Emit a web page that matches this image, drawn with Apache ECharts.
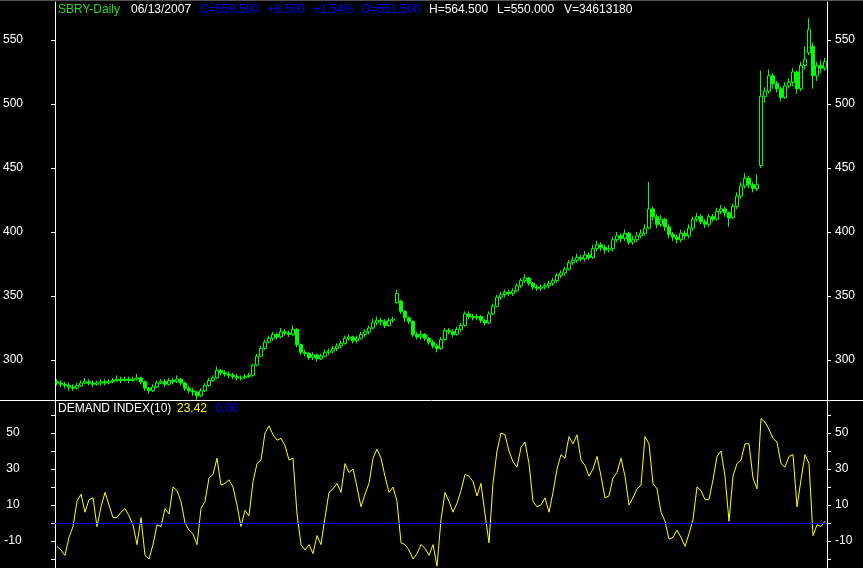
<!DOCTYPE html>
<html><head><meta charset="utf-8">
<script src="https://cdn.jsdelivr.net/npm/echarts@6/dist/echarts.min.js"></script>
<style>html,body{margin:0;padding:0;background:#000;}#c{width:863px;height:568px;}</style>
</head><body><div id="c"></div>
<script>
var opens = [283,282,281,280,279,278,280,282,283,282,
281,282,283,282,283,284,285,284,285,284,
285,286,283,278,276,279,282,283,281,284,
283,285,282,278,276,275,272,276,280,284,
286,292,290,289,288,287,286,286,287,288,
296,303,309,314,317,320,318,322,321,320,
324,312,306,305,302,304,301,303,306,307,
309,311,313,317,318,315,317,320,322,325,
329,331,330,327,331,345,346,338,333,330,
320,318,320,317,314,311,309,316,323,322,
320,324,327,336,334,333,334,331,329,336,
342,349,351,353,352,354,358,362,364,360,
357,356,357,358,360,362,366,368,371,376,
378,380,379,382,380,387,390,388,386,387,
394,397,395,399,392,394,397,399,403,418,
412,406,410,404,398,396,394,399,397,403,
410,412,408,406,412,410,416,418,415,411,
420,428,436,442,437,434,452,506,510,522,
516,512,505,514,517,525,512,530,540,545,
522,530,528];
var closes = [282,281,280,279,278,280,282,283,282,281,
282,283,282,283,284,285,284,285,284,285,
286,283,278,276,279,282,283,281,284,283,
285,282,278,276,275,272,276,280,284,286,
292,290,289,288,287,286,286,287,288,296,
303,309,314,317,320,318,322,321,320,324,
312,306,305,302,304,301,303,306,307,309,
311,313,317,318,315,317,320,322,325,329,
331,330,327,331,332,352,338,333,330,320,
318,320,317,314,311,309,316,323,322,320,
324,327,336,334,333,334,331,329,336,342,
349,351,353,352,354,358,362,364,360,357,
356,357,358,360,362,366,368,371,376,378,
380,379,382,380,387,390,388,386,387,394,
397,395,399,392,394,397,399,403,418,412,
406,410,404,398,396,394,399,397,403,410,
412,408,406,412,410,416,418,415,411,420,
428,436,442,437,434,437,506,510,522,516,
512,505,514,517,525,512,530,535,558,522,
530,528,533];
var lows = [280,279,278,276,276,277,279,281,280,279,
280,280,280,281,282,283,282,283,282,283,
284,281,276,274,275,278,281,279,280,281,
282,280,276,274,272,269,271,275,279,283,
285,288,287,286,285,284,284,285,286,287,
295,302,308,313,315,316,317,319,318,319,
310,304,303,300,300,299,300,302,304,305,
307,309,312,315,313,313,316,318,320,324,
327,327,325,326,329,344,336,330,328,318,
316,316,315,312,309,306,308,315,320,318,
319,322,326,332,331,331,329,327,328,335,
341,347,349,350,350,353,356,360,358,355,
354,354,355,356,358,360,364,366,370,374,
376,377,377,378,379,385,385,383,384,385,
392,392,393,390,390,392,395,397,402,409,
403,404,401,395,393,391,392,394,395,401,
408,406,403,404,408,409,414,412,404,410,
418,426,434,434,431,432,450,501,508,512,
509,502,504,512,514,508,510,527,538,512,
518,524,526];
var highs = [285,284,283,282,281,282,284,286,285,284,
284,285,285,285,286,288,287,287,287,287,
289,287,284,279,281,284,285,285,286,286,
288,286,283,280,278,276,278,282,286,288,
295,293,292,291,290,289,288,289,290,297,
305,311,316,319,322,321,325,324,323,327,
325,313,308,306,306,305,305,308,309,311,
313,315,319,320,319,319,322,324,327,332,
334,333,332,333,334,355,347,339,334,331,
322,323,321,318,316,313,318,325,325,324,
326,329,338,338,336,336,335,332,338,344,
351,353,355,355,356,360,364,367,365,361,
359,359,360,362,364,368,370,373,378,381,
383,382,385,384,390,393,392,390,390,396,
400,399,402,400,397,400,402,406,439,420,
414,413,411,406,400,398,402,401,406,412,
415,414,410,414,414,419,421,420,416,422,
431,439,446,444,439,445,526,513,527,524,
518,514,517,520,528,526,533,545,567,548,
533,534,536];
var demandIndex = [-13,-15,-18,-8,-2,12,16,6,13,14,
-2,9,17,10,3,3,6,8,4,-1,
-12,3,-18,-20,-12,-1,-2,8,5,20,
18,12,0,-4,-6,-12,8,12,25,27,
36,21,22,24,20,10,-2,7,4,23,
33,35,50,54,49,46,47,43,35,36,
5,-12,-15,-12,-17,-7,-12,3,17,19,
22,17,33,28,30,20,9,16,22,36,
41,36,26,17,20,12,-11,-12,-15,-20,
-17,-12,-14,-18,-12,-24,2,17,12,6,
11,18,27,26,23,15,22,5,-11,22,
40,50,49,40,34,31,42,45,33,12,
9,10,14,6,17,30,38,36,48,44,
49,35,32,26,30,37,26,14,15,25,
28,36,26,10,14,19,21,48,44,22,
19,6,1,-9,-8,-4,-8,-13,-6,2,
20,18,13,13,24,37,40,26,1,26,
33,35,44,44,25,19,58,56,52,47,
45,33,31,37,38,9,24,38,33,-7,
-1,-2,1];
var priceTicks = [300,350,400,450,500,550];
var diTicks = [-20,-10,0,10,20,30,40,50,60];
var diLabels = [-10,10,30,50];

var days = closes.map(function(_, i){ return i; });
var candles = closes.map(function(c, i){ return [opens[i], c, lows[i], highs[i]]; });

var FONT = 'Liberation Sans, Arial, sans-serif';
function yAx(grid, pos, min, max, ticks, labels, left) {
  return {
    type:'value', gridIndex:grid, position:pos, min:min, max:max, scale:true,
    splitLine:{show:false},
    axisLine:{show:true, lineStyle:{color:'#ffffff', width:1}},
    axisTick:{show:true, inside:false, length:4, lineStyle:{color:'#ffffff'}, customValues:ticks},
    axisLabel:{show:true, color:'#ffffff', fontFamily:FONT, fontSize:12,
      customValues:labels, align: left ? 'center' : 'left', margin: left ? 42 : 8}
  };
}
var chart = echarts.init(document.getElementById('c'), null, {renderer:'canvas'});
function txt(x, y, s, col) {
  return {type:'text', x:x, y:y, silent:true, style:{text:s, fill:col, font:'12px ' + FONT, verticalAlign:'top'}};
}
chart.setOption({
  backgroundColor:'#000000',
  animation:false,
  grid:[
    {left:55, right:36, top:2, height:398},
    {left:55, right:36, top:401, height:167}
  ],
  xAxis:[
    {type:'category', gridIndex:0, data:days, boundaryGap:true, show:false},
    {type:'category', gridIndex:1, data:days, boundaryGap:true, show:false}
  ],
  yAxis:[
    yAx(0, 'left', 268.75, 579.69, priceTicks, priceTicks, true),
    yAx(0, 'right', 268.75, 579.69, priceTicks, priceTicks, false),
    yAx(1, 'left', -25, 67.78, diTicks, diLabels, true),
    yAx(1, 'right', -25, 67.78, diTicks, diLabels, false)
  ],
  series:[
    {type:'candlestick', xAxisIndex:0, yAxisIndex:0, data:candles, barWidth:3,
     itemStyle:{color:'#000000', color0:'#00ff00', borderColor:'#00ff00', borderColor0:'#00ff00', borderWidth:1}},
    {type:'line', xAxisIndex:1, yAxisIndex:2, data:demandIndex, symbol:'none',
     lineStyle:{color:'#ffff00', width:1}, z:3,
     markLine:{silent:true, symbol:'none', label:{show:false}, animation:false,
       lineStyle:{color:'#0000ff', width:1, type:'solid'}, data:[{yAxis:0}]}}
  ],
  graphic:[
    {type:'line', silent:true, shape:{x1:0, y1:0.5, x2:863, y2:0.5}, style:{stroke:'#555555', lineWidth:1}},
    {type:'line', silent:true, shape:{x1:0, y1:400.5, x2:863, y2:400.5}, style:{stroke:'#ffffff', lineWidth:1}},
    txt(58, 4, 'SBRY-Daily', '#1fdc1f'),
    txt(131, 4, '06/13/2007', '#ffffff'),
    txt(200, 4, 'C=559.500', '#0000ff'),
    txt(268, 4, '+8.500', '#0000ff'),
    txt(313, 4, '+1.54%', '#0000ff'),
    txt(361, 4, 'O=551.500', '#0000ff'),
    txt(429, 4, 'H=564.500', '#ffffff'),
    txt(497, 4, 'L=550.000', '#ffffff'),
    txt(564, 4, 'V=34613180', '#ffffff'),
    txt(58, 403, 'DEMAND INDEX(10)', '#ffffff'),
    txt(177, 403, '23.42', '#ffff00'),
    txt(215, 403, '0.00', '#0000ff')
  ]
});
</script>
</body></html>
